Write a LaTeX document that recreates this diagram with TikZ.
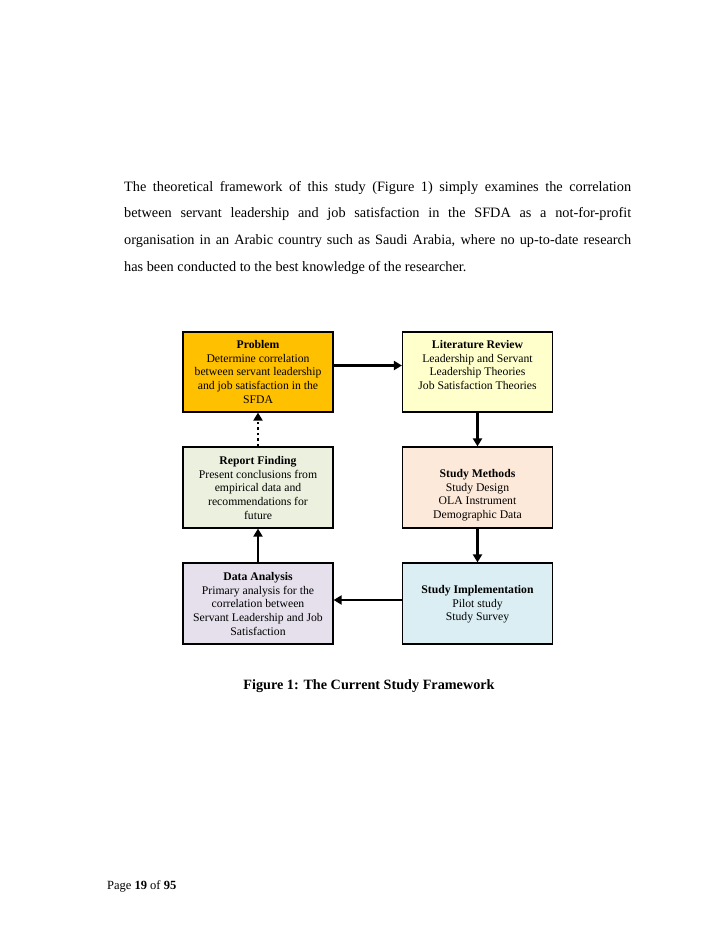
\documentclass[tikz,border=0pt]{standalone}
\usepackage{fontspec}
\setmainfont{Liberation Serif}
\usetikzlibrary{arrows.meta}
\definecolor{cProb}{HTML}{FFC000}
\definecolor{cLit}{HTML}{FFFFCC}
\definecolor{cRep}{HTML}{EBF1DE}
\definecolor{cMeth}{HTML}{FDE9D9}
\definecolor{cData}{HTML}{E5E0EC}
\definecolor{cImpl}{HTML}{DAEEF3}
\begin{document}
\begin{tikzpicture}[x=1bp,y=-1bp,
  box/.style={draw=black, line width=1.2bp, minimum width=150bp, minimum height=80bp, inner sep=0pt},
  txt/.style={anchor=north, align=center, inner sep=0pt, font=\fontsize{11.7bp}{13.8bp}\selectfont},
  arr/.style={line width=2.4bp, -{Triangle[length=8bp,width=9bp]}},
  dotarr/.style={arr, dash pattern=on 2.5bp off 3bp}]
\useasboundingbox[fill=white] (0,0) rectangle (728,943);

\node[anchor=north west, text width=507bp, align=justify, inner sep=0pt,
  font=\fontsize{14.3bp}{26.6bp}\selectfont] (para) at (124,181)
  {\hyphenpenalty=10000 The theoretical framework of this study (Figure 1) simply examines the correlation\linebreak between servant leadership and job satisfaction in the SFDA as a not-for-profit\linebreak organisation in an Arabic country such as Saudi Arabia, where no up-to-date research\linebreak has been conducted to the best knowledge of the researcher.};

\node[box, fill=cProb] (prob) at (258,372) {};
\node[box, fill=cLit] (lit) at (477.5,372) {};
\node[box, fill=cRep, minimum height=81bp] (rep) at (258,487.5) {};
\node[box, fill=cMeth, minimum height=81bp] (meth) at (477.5,487.5) {};
\node[box, fill=cData, minimum height=81bp] (data) at (258,603.5) {};
\node[box, fill=cImpl, minimum height=81bp] (impl) at (477.5,603.5) {};

\node[txt] (probt) at (258,340) {\textbf{Problem}\\Determine correlation\\between servant leadership\\and job satisfaction in the\\SFDA};
\node[txt] (litt) at (477.5,340) {\textbf{Literature Review}\\Leadership and Servant\\Leadership Theories\\Job Satisfaction Theories};
\node[txt] (rept) at (258,456) {\textbf{Report Finding}\\Present conclusions from\\empirical data and\\recommendations for\\future};
\node[txt] (metht) at (477.5,469) {\textbf{Study Methods}\\Study Design\\OLA Instrument\\Demographic Data};
\node[txt] (datat) at (258,572) {\textbf{Data Analysis}\\Primary analysis for the\\correlation between\\Servant Leadership and Job\\Satisfaction};
\node[txt] (implt) at (477.5,585) {\textbf{Study Implementation}\\Pilot study\\Study Survey};

\draw[arr] ([yshift=6.5bp]prob.east) -- ([yshift=6.5bp]lit.west);
\draw[arr] (lit.south) -- (meth.north);
\draw[arr] (meth.south) -- (impl.north);
\draw[arr] ([yshift=3.5bp]impl.west) -- ([yshift=3.5bp]data.east);
\draw[arr] (data.north) -- (rep.south);
\draw[dotarr] (rep.north) -- (prob.south);

\node[anchor=base, inner sep=0pt, font=\fontsize{14.2bp}{17bp}\selectfont\bfseries] (cap) at (369,689) {Figure 1: The Current Study Framework};
\node[anchor=base west, inner sep=0pt, font=\fontsize{12.5bp}{15bp}\selectfont] (page) at (107,889) {Page \textbf{19} of \textbf{95}};
\end{tikzpicture}
\end{document}
